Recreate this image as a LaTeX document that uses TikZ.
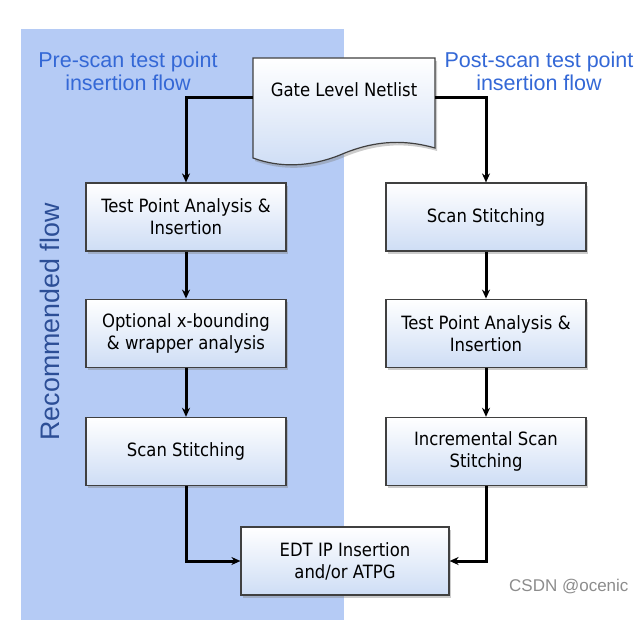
\documentclass[tikz,border=0pt]{standalone}
\usepackage{fontspec}
\setmainfont{DejaVu Sans Condensed}
\newfontfamily\labelfont{Liberation Sans}
\usepackage{tikz}
\usetikzlibrary{positioning, arrows.meta, shadows}

\definecolor{flowblue}{RGB}{181,203,245}
\definecolor{labelblue}{RGB}{52,104,214}
\definecolor{recblue}{RGB}{44,78,150}
\definecolor{boxbottom}{RGB}{206,221,245}

\tikzset{
  flowbox/.style={draw=black!75, line width=1.2pt, minimum width=200pt, minimum height=68pt,
    align=center, font=\fontsize{18.3}{22}\selectfont,
    top color=white, bottom color=boxbottom,
    drop shadow={opacity=0.4, shadow xshift=2pt, shadow yshift=-3pt}},
  flowlabel/.style={align=center, text=labelblue, font=\labelfont\fontsize{21.5}{23}\selectfont},
  flowarrow/.style={line width=3pt, -{Stealth[length=9pt,width=8pt]}}
}

\begin{document}
\begin{tikzpicture}[x=1pt,y=-1pt]
    \useasboundingbox (0,0) rectangle (642,634);
    \fill[flowblue] (21,29) rectangle (344,620);

    \node(pre_label)[flowlabel] at (128,71){Pre-scan test point\\insertion flow};
    \node(post_label)[flowlabel] at (539,71){Post-scan test point\\insertion flow};
    \node(rec_label)[text=recblue, font=\labelfont\fontsize{26.8}{28}\selectfont, rotate=90] at (50,322){Recommended flow};

    % netlist document shape
    \path[draw=black!75, line width=1.2pt, top color=white, bottom color=boxbottom,
      drop shadow={opacity=0.4, shadow xshift=2pt, shadow yshift=-3pt}]
      (253,58) -- (435,58) -- (435,148)
      .. controls (400,138) and (370,142) .. (340,155)
      .. controls (310,167) and (280,168) .. (253,158) -- cycle;
    \node(netlist)[font=\fontsize{18.3}{22}\selectfont] at (344,90){Gate Level Netlist};
    \coordinate(netlist_w) at (253,97);
    \coordinate(netlist_e) at (435,97);

    \node(tpa_pre)[flowbox] at (186,217){Test Point Analysis \&\\Insertion};
    \node(opt_pre)[flowbox, below=47pt of tpa_pre]{Optional x-bounding\\\& wrapper analysis};
    \node(scan_pre)[flowbox, below=49pt of opt_pre]{Scan Stitching};

    \node(scan_post)[flowbox] at (486,217){Scan Stitching};
    \node(tpa_post)[flowbox, below=47pt of scan_post]{Test Point Analysis \&\\Insertion};
    \node(inc_post)[flowbox, below=49pt of tpa_post]{Incremental Scan\\Stitching};

    \node(edt)[flowbox, minimum width=208pt] at (345,561){EDT IP Insertion\\and/or ATPG};

    \node(csdn)[text=black!45, font=\labelfont\fontsize{17}{20}\selectfont, anchor=east] at (632,587){CSDN @ocenic};

    \draw[flowarrow] (netlist_w) -| (tpa_pre);
    \draw[flowarrow] (netlist_e) -| (scan_post);
    \draw[flowarrow] (tpa_pre) -- (opt_pre);
    \draw[flowarrow] (opt_pre) -- (scan_pre);
    \draw[flowarrow] (scan_post) -- (tpa_post);
    \draw[flowarrow] (tpa_post) -- (inc_post);
    \draw[flowarrow] (scan_pre) |- (edt);
    \draw[flowarrow] (inc_post) |- (edt);
  \end{tikzpicture}
\end{document}
